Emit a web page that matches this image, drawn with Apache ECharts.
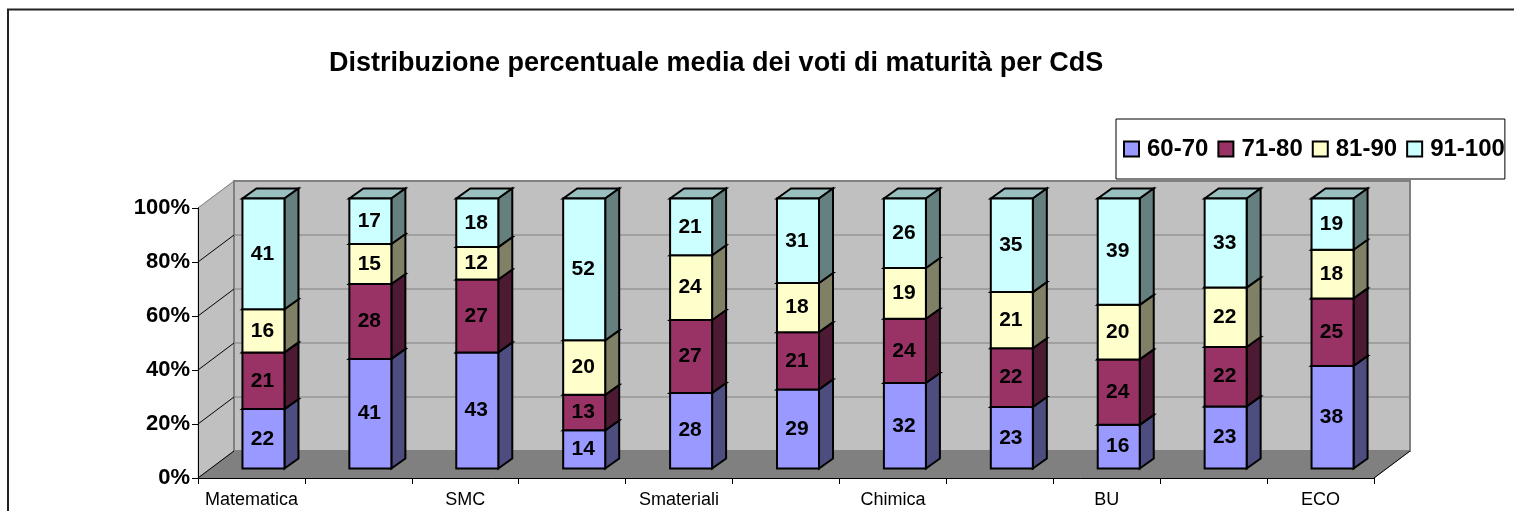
<!DOCTYPE html>
<html>
<head>
<meta charset="utf-8">
<title>Distribuzione voti di maturità</title>
<style>
  html, body { margin: 0; padding: 0; background: #fff; overflow: hidden; }
  #main { width: 1514px; height: 511px; }
</style>
<script src="https://cdn.jsdelivr.net/npm/echarts@6/dist/echarts.min.js"></script>
</head>
<body>
<div id="main"></div>
<script>
const titleText = "Distribuzione percentuale media dei voti di maturità per CdS";
const categories = ["Matematica", "", "SMC", "", "Smateriali", "", "Chimica", "", "BU", "", "ECO"];
const yTicks = [0, 20, 40, 60, 80, 100];
const names = ["60-70", "71-80", "81-90", "91-100"];
const v6070 = [22, 41, 43, 14, 28, 29, 32, 23, 16, 23, 38];
const v7180 = [21, 28, 27, 13, 27, 21, 24, 22, 24, 22, 25];
const v8190 = [16, 15, 12, 20, 24, 18, 19, 21, 20, 22, 18];
const v91100 = [41, 17, 18, 52, 21, 31, 26, 35, 39, 33, 19];
const bands = [v6070, v7180, v8190, v91100];

const frontColors = ["#9999ff", "#993366", "#ffffcc", "#ccffff"];
const sideColors = ["#4d4d80", "#4d1a33", "#808066", "#668080"];
const topColors = ["#7373bf", "#73264d", "#bfbf99", "#99bfbf"];

// depth of the fake 3d box, in pixels
const wallDx = 36, wallDy = 27;
const barDx = 14, barDy = 10;
const barShiftX = 12, barShiftY = 9.5;

function line(x1, y1, x2, y2, color) {
  return {
    type: "line",
    shape: { x1, y1, x2, y2 },
    style: { stroke: color, lineWidth: 1 },
  };
}

function poly(points, fill, stroke, lineWidth) {
  return {
    type: "polygon",
    shape: { points },
    style: { fill, stroke: stroke || fill, lineWidth: lineWidth || 1 },
  };
}

function renderWalls(params, api) {
  const r = params.coordSys;
  const left = r.x, right = r.x + r.width, top = r.y, bot = r.y + r.height;
  const kids = [
    poly([[left, top], [left + wallDx, top - wallDy], [left + wallDx, bot - wallDy], [left, bot]], "#c0c0c0"),
    poly([[left + wallDx, top - wallDy], [right + wallDx, top - wallDy], [right + wallDx, bot - wallDy], [left + wallDx, bot - wallDy]], "#c0c0c0", "#808080", 2),
    poly([[left, bot], [left + wallDx, bot - wallDy], [right + wallDx, bot - wallDy], [right, bot]], "#808080"),
    line(right, bot, right + wallDx, bot - wallDy, "#000"),
  ];
  yTicks.forEach((t) => {
    const y = api.coord([0, t])[1];
    kids.push(line(left, y, left + wallDx, y - wallDy, t == 100 ? "#808080" : "#000"));
    if (t > 0 && t < 100) {
      kids.push(line(left + wallDx, y - wallDy, right + wallDx, y - wallDy, "#808080"));
    }
  });
  return { type: "group", children: kids };
}

function renderBar(params, api) {
  const s = params.seriesIndex - 1;
  const idx = api.value(0);
  const c0 = api.coord([idx, api.value(1)]);
  const c1 = api.coord([idx, api.value(2)]);
  const w = api.size([1, 0])[0] * 0.393;
  const x0 = c0[0] + barShiftX - w / 2;
  const x1 = x0 + w;
  const yb = c0[1] - barShiftY;
  const yt = c1[1] - barShiftY;
  const border = "#000";
  return {
    type: "group",
    children: [
      poly([[x0, yt], [x0 + barDx, yt - barDy], [x1 + barDx, yt - barDy], [x1, yt]], topColors[s], border, 2),
      poly([[x1, yb], [x1 + barDx, yb - barDy], [x1 + barDx, yt - barDy], [x1, yt]], sideColors[s], border, 2),
      {
        type: "rect",
        shape: { x: x0, y: yt, width: w, height: yb - yt },
        style: { fill: frontColors[s], stroke: border, lineWidth: 2 },
      },
      {
        type: "text",
        x: (x0 + x1) / 2 - 1,
        y: (yt + yb) / 2,
        style: {
          text: String(api.value(3)),
          fill: "#000",
          align: "center",
          verticalAlign: "middle",
          font: "bold 21px 'Liberation Sans'",
        },
      },
    ],
  };
}

// bars are 100% stacked, the printed values are rounded and do not always add up to 100
const barSeries = bands.map((vals, s) => ({
  name: names[s],
  type: "custom",
  z: 3,
  renderItem: renderBar,
  itemStyle: { color: frontColors[s], borderColor: "#000", borderWidth: 1.5 },
  encode: { x: 0, y: [1, 2] },
  data: vals.map((v, i) => {
    let total = 0, below = 0;
    bands.forEach((b, k) => {
      total += b[i];
      if (k < s) below += b[i];
    });
    return [i, (below / total) * 100, ((below + v) / total) * 100, v];
  }),
}));

const chart = echarts.init(document.getElementById("main"));
chart.setOption({
  animation: false,
  backgroundColor: "#fff",
  textStyle: { fontFamily: "Liberation Sans" },
  title: {
    text: titleText,
    left: 329,
    top: 50,
    padding: 0,
    textStyle: { fontSize: 27, fontWeight: "bold", color: "#000", fontFamily: "Liberation Sans" },
  },
  legend: {
    data: names,
    left: 1116,
    top: 119,
    padding: [18, 0, 18, 7],
    itemWidth: 15,
    itemHeight: 15,
    itemGap: 9,
    icon: "rect",
    backgroundColor: "#fff",
    borderColor: "#000",
    borderWidth: 1,
    borderRadius: 0,
    z: 10,
    textStyle: { fontSize: 24, fontWeight: "bold", color: "#000", padding: [0, 0, 0, 3] },
  },
  grid: { left: 198, top: 208, width: 1176, height: 270, containLabel: false },
  xAxis: {
    type: "category",
    data: categories,
    z: 5,
    axisLine: { lineStyle: { color: "#000", width: 1 } },
    axisTick: { show: true, length: 6, interval: 0, lineStyle: { color: "#000" } },
    axisLabel: { interval: 0, fontSize: 18, color: "#000", margin: 13 },
  },
  yAxis: {
    type: "value",
    min: 0,
    max: 100,
    interval: 20,
    z: 5,
    splitLine: { show: false },
    axisLine: { show: true, lineStyle: { color: "#000", width: 1 } },
    axisTick: { show: true, length: 6, lineStyle: { color: "#000" } },
    axisLabel: { formatter: "{value}%", fontSize: 22, fontWeight: "bold", color: "#000", margin: 8 },
  },
  graphic: [
    {
      type: "rect",
      silent: true,
      z: -1,
      shape: { x: 8, y: 9.5, width: 1520, height: 540 },
      style: { fill: "#fff", stroke: "#222", lineWidth: 2 },
    },
  ],
  series: [
    {
      name: "walls",
      type: "custom",
      z: 1,
      silent: true,
      renderItem: renderWalls,
      data: [[0, 0]],
    },
  ].concat(barSeries),
});
</script>
</body>
</html>
